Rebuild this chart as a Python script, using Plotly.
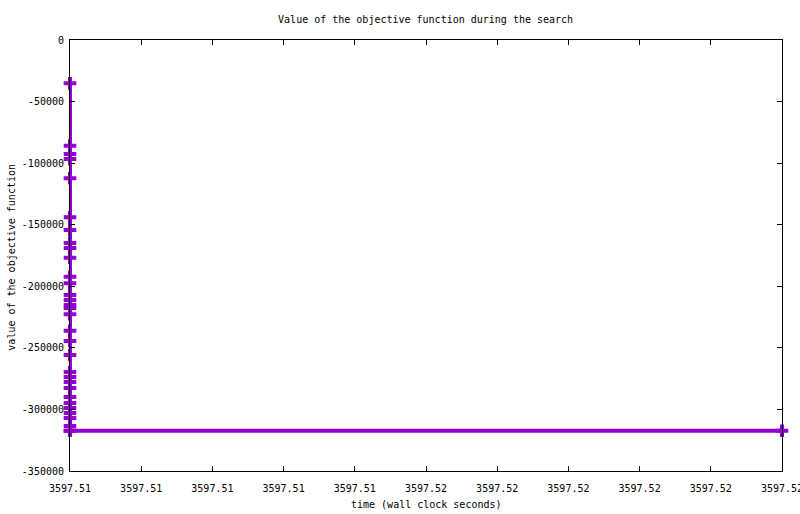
import plotly.graph_objects as go

# Data
t_start = 3597.5065
t_end = 3597.5245
times = [t_start] * 32 + [t_end]
objective = [
    -35200, -85800, -92600, -96600, -112300, -144000, -154300, -164800,
    -168900, -176800, -192200, -197600, -207100, -211100, -215200, -217600,
    -222700, -236100, -244400, -255800, -269600, -273700, -277700, -282600,
    -289900, -294800, -298800, -302900, -307000, -313400, -317300, -317300,
    -317300,
]

x_tick_labels = ["3597.51"] * 5 + ["3597.52"] * 6
y_tick_values = [0, -50000, -100000, -150000, -200000, -250000, -300000, -350000]
y_tick_labels = ["0", "-50000", "-100000", "-150000", "-200000", "-250000", "-300000", "-350000"]

n_ticks = len(x_tick_labels)
x_tick_values = [t_start + (t_end - t_start) * i / (n_ticks - 1) for i in range(n_ticks)]

FONT = "DejaVu Sans Mono"
COLOR = "#9400D3"

fig = go.Figure()
fig.add_trace(go.Scatter(
    x=times, y=objective, mode="lines+markers",
    line=dict(color=COLOR, width=4),
    marker=dict(symbol="cross-thin-open", size=9, color=COLOR,
                line=dict(color=COLOR, width=4)),
    cliponaxis=False, showlegend=False,
))

fig.update_layout(
    width=800, height=514,
    margin=dict(l=70, r=18, t=40, b=43, autoexpand=False),
    paper_bgcolor="white", plot_bgcolor="white",
    font=dict(family=FONT, size=10, color="black"),
    title=dict(text="Value of the objective function during the search",
               x=0.532, xanchor="center", y=1 - 19 / 514, yanchor="middle",
               font=dict(family=FONT, size=10, color="black")),
    xaxis=dict(
        range=[t_start, t_end], tickvals=x_tick_values, ticktext=x_tick_labels,
        automargin=False, ticklabeloverflow="allow", ticklabelstandoff=8,
        showgrid=False, zeroline=False, showline=True, linecolor="black", linewidth=1,
        mirror="ticks", ticks="inside", ticklen=5, tickcolor="black", layer="above traces",
        tickfont=dict(family=FONT, size=10),
    ),
    yaxis=dict(
        range=[-350000, 0], tickvals=y_tick_values, ticktext=y_tick_labels,
        automargin=False, ticklabeloverflow="allow", ticklabelstandoff=3,
        showgrid=False, zeroline=False, showline=True, linecolor="black", linewidth=1,
        mirror="ticks", ticks="inside", ticklen=5, tickcolor="black", layer="above traces",
        tickfont=dict(family=FONT, size=10),
    ),
    annotations=[
        dict(text="time (wall clock seconds)", xref="paper", yref="paper",
             x=0.5, y=-34 / 431, xanchor="center", yanchor="middle",
             showarrow=False, font=dict(family=FONT, size=10)),
        dict(text="value of the objective function", xref="paper", yref="paper",
             x=-58 / 712, y=0.495, xanchor="center", yanchor="middle", textangle=-90,
             showarrow=False, font=dict(family=FONT, size=10)),
    ],
)

fig.write_html("out.html", config={"displayModeBar": False},
               post_script="document.body.style.margin='0';")
